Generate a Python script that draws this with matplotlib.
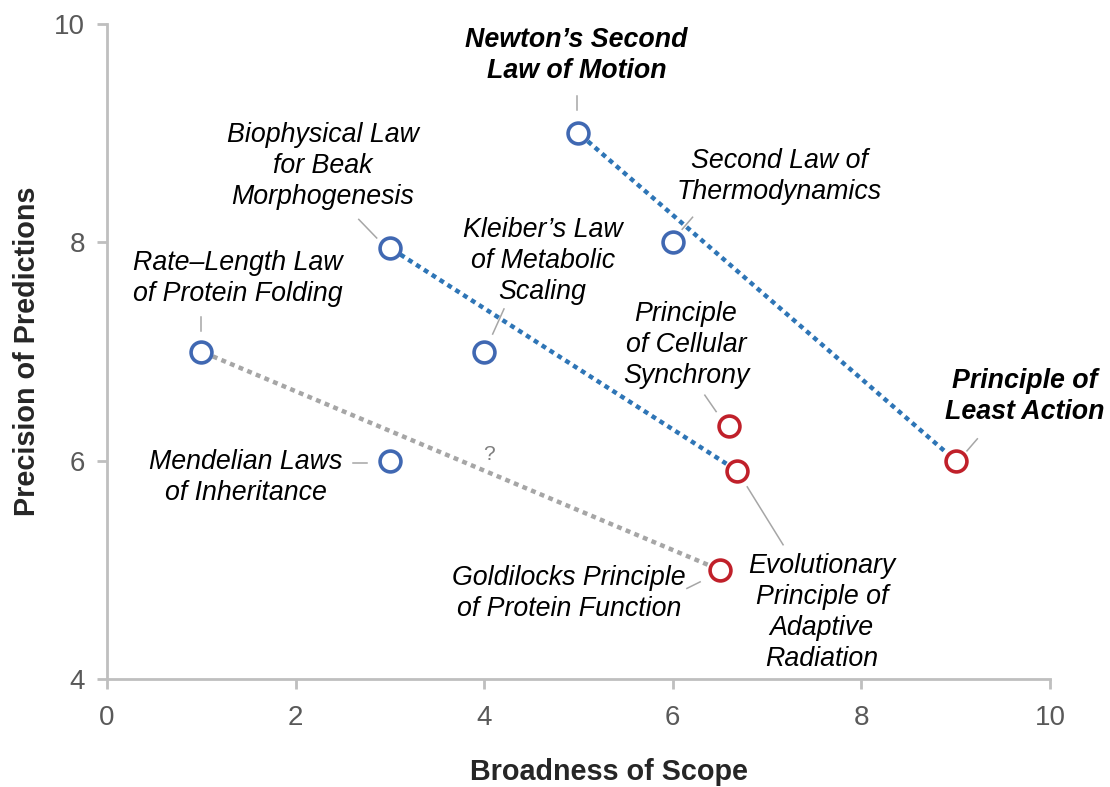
import matplotlib
matplotlib.use("Agg")
from matplotlib import pyplot as plt

plt.rcParams["font.family"] = ["Liberation Sans", "DejaVu Sans"]

# ---- data ----
law_names = [
    "Newton\u2019s Second\nLaw of Motion",
    "Second Law of\nThermodynamics",
    "Principle of\nLeast Action",
    "Biophysical Law\nfor Beak\nMorphogenesis",
    "Kleiber\u2019s Law\nof Metabolic\nScaling",
    "Rate\u2013Length Law\nof Protein Folding",
    "Mendelian Laws\nof Inheritance",
    "Principle\nof Cellular\nSynchrony",
    "Evolutionary\nPrinciple of\nAdaptive\nRadiation",
    "Goldilocks Principle\nof Protein Function",
]
scope = [5, 6, 9, 3, 4, 1, 3, 6.6, 6.68, 6.5]
precision = [9, 8, 6, 7.95, 7, 7, 6, 6.32, 5.91, 5.0]
is_physics = [True, True, False, True, True, True, True, False, False, False]
is_bold = [True, False, True, False, False, False, False, False, False, False]

# trend lines: (from index, to index, colour)
trends = [(0, 2, "#2E75B6"), (3, 8, "#2E75B6"), (5, 9, "#A6A6A6")]

# label layout in data coords: text centre, leader start, leader end
label_xy = [(4.98, 9.71), (7.13, 8.60), (9.73, 6.59), (2.29, 8.70), (4.62, 7.83),
            (1.39, 7.67), (1.47, 5.85), (6.14, 7.06), (7.58, 4.61), (4.90, 4.78)]
leaders = [((4.98, 9.34), (4.98, 9.21)), ((6.21, 8.23), (6.10, 8.12)),
           ((9.23, 6.20), (9.12, 6.09)), ((2.67, 8.21), (2.86, 8.04)),
           ((4.21, 7.39), (4.09, 7.16)), ((1.00, 7.32), (1.00, 7.19)),
           ((2.61, 5.98), (2.76, 5.98)), ((6.34, 6.60), (6.46, 6.45)),
           ((6.79, 5.76), (7.17, 5.23)), ((6.15, 4.83), (6.29, 4.89))]

fig = plt.figure(figsize=(11.1, 7.87), dpi=100)
ax = fig.add_axes([0.0964, 0.1372, 0.8495, 0.8323])

for i, j, c in trends:
    ax.annotate("", xy=(scope[j], precision[j]), xytext=(scope[i], precision[i]),
                arrowprops=dict(arrowstyle="-", color=c, lw=3.2,
                                linestyle=(0, (1.1, 1.0)), shrinkA=9, shrinkB=9,
                                capstyle="butt"))

for x, y, phys in zip(scope, precision, is_physics):
    col = "#4068B2" if phys else "#C0202A"
    ax.plot(x, y, "o", ms=15, mfc="white", mec=col, mew=2.6, zorder=5)

for name, (tx, ty), bold, (p0, p1) in zip(law_names, label_xy, is_bold, leaders):
    ax.text(tx, ty, name, ha="center", va="center", style="italic",
            fontweight="bold" if bold else "normal", fontsize=19.3,
            color="black", linespacing=1.25)
    ax.plot([p0[0], p1[0]], [p0[1], p1[1]], color="#A6A6A6", lw=1.1)

ax.text(4.05, 6.06, "?", ha="center", va="center", fontsize=15, color="#808080")

ax.set_xlim(0, 10)
ax.set_ylim(4, 10)
ax.set_xticks([0, 2, 4, 6, 8, 10])
ax.set_yticks([4, 6, 8, 10])
for s in ["top", "right"]:
    ax.spines[s].set_visible(False)
for s in ["left", "bottom"]:
    ax.spines[s].set_color("#BFBFBF")
    ax.spines[s].set_linewidth(2)
ax.tick_params(colors="#BFBFBF", width=2, length=7, labelsize=20,
               labelcolor="#595959")
ax.tick_params(axis="x", pad=12)
ax.tick_params(axis="y", pad=9)

fig.text(0.549, 0.009, "Broadness of Scope", ha="center", va="baseline",
         fontsize=20.7, fontweight="bold", color="#262626")
fig.text(0.012, 0.554, "Precision of Predictions", ha="left", va="center",
         rotation=90, fontsize=20.7, fontweight="bold", color="#262626")

fig.savefig("out.png", dpi=100)
